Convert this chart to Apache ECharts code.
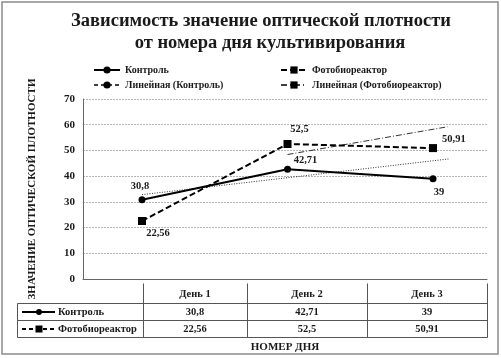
<!DOCTYPE html>
<html><head><meta charset="utf-8">
<script src="https://cdn.jsdelivr.net/npm/echarts@6/dist/echarts.min.js"></script>
<style>html,body{margin:0;padding:0;background:#fff}#c{width:501px;height:358px}</style>
</head><body><div id="c"></div>
<script>
// ---- data ----
const titleLines = ['Зависимость значение оптической плотности', 'от номера дня культивирования'];
const days = ['День 1', 'День 2', 'День 3'];
const dayNumbers = [1, 2, 3];
const seriesNames = ['Контроль', 'Фотобиореактор', 'Линейная (Контроль)', 'Линейная (Фотобиореактор)'];
const control = [30.8, 42.71, 39];
const photo = [22.56, 52.5, 50.91];
const trendControlX = [1, 3.11];
const trendControlY = [32.8, 46.7];
const trendPhotoX = [2, 3.1];
const trendPhotoY = [48.4, 59.2];
const yMin = 0, yMax = 70, yStep = 10;
const yTitle = 'ЗНАЧЕНИЕ ОПТИЧЕСКОЙ ПЛОТНОСТИ';
const xTitle = 'НОМЕР ДНЯ';

// ---- presentation ----
const FONT = '"Liberation Serif", "DejaVu Serif", serif';
const INK = '#1a1a1a';
const fmt = v => String(v).replace('.', ',');
const pair = (xs, ys) => xs.map((x, i) => [x, ys[i]]);

const controlLabelPos = [
  {position: 'top', offset: [-2, 0]},
  {position: 'top', offset: [18, 5]},
  {position: 'bottom', offset: [6, 0]}
];
const photoLabelPos = [
  {position: 'bottom', offset: [16, -2]},
  {position: 'top', offset: [12, 0]},
  {position: 'right', offset: [0, -9]}
];
const labelBase = {show: true, fontFamily: FONT, fontWeight: 'bold', fontSize: 10.5, color: INK,
  formatter: p => fmt(p.value[1])};

const chart = echarts.init(document.getElementById('c'), null, {renderer: 'canvas'});

// table geometry
const tL = 17, tTop = 283, hB = 303, r1B = 320, r2B = 337;
const cols = [143, 247, 367, 487];
const g = [];
const line = (x1, y1, x2, y2, extra) => g.push(Object.assign({type: 'line', silent: true,
  shape: {x1, y1, x2, y2}, style: {stroke: '#555', lineWidth: 1}}, extra || {}));
const txt = (x, y, text, align, size) => g.push({type: 'text', silent: true, x, y,
  style: {text, fontFamily: FONT, fontWeight: 'bold', fontSize: size || 10.5, fill: INK,
    textAlign: align || 'center', textVerticalAlign: 'middle'}});

// outer frame
g.push({type: 'rect', silent: true, shape: {x: 2, y: 2, width: 496, height: 352},
  style: {fill: 'none', stroke: '#8a8a8a', lineWidth: 1.5}});
// title
txt(261, 21, titleLines[0], 'center', 18.5);
txt(270, 43, titleLines[1], 'center', 18.5);

[hB, r1B, r2B].forEach(y => line(tL + 0.5, y + 0.5, cols[3] + 0.5, y + 0.5));
line(tL + 0.5, hB + 0.5, tL + 0.5, r2B + 0.5);
cols.forEach(x => line(x + 0.5, tTop + 0.5, x + 0.5, r2B + 0.5));
days.forEach((d, i) => {
  const cx = (cols[i] + cols[i + 1]) / 2;
  txt(cx, (tTop + hB) / 2 + 1, d);
  txt(cx, (hB + r1B) / 2 + 1, fmt(control[i]));
  txt(cx, (r1B + r2B) / 2 + 1, fmt(photo[i]));
});
// row keys
line(22, (hB + r1B) / 2 + 0.5, 55, (hB + r1B) / 2 + 0.5, {style: {stroke: '#000', lineWidth: 2}});
g.push({type: 'circle', silent: true, shape: {cx: 39, cy: (hB + r1B) / 2 + 0.5, r: 3}, style: {fill: '#000'}});
txt(58, (hB + r1B) / 2 + 1, seriesNames[0], 'left');
line(22, (r1B + r2B) / 2 + 0.5, 55, (r1B + r2B) / 2 + 0.5, {style: {stroke: '#000', lineWidth: 2, lineDash: [4, 3]}});
g.push({type: 'rect', silent: true, shape: {x: 35.5, y: (r1B + r2B) / 2 - 3, width: 7, height: 7}, style: {fill: '#000'}});
txt(58, (r1B + r2B) / 2 + 1, seriesNames[1], 'left');

const legendText = {fontFamily: FONT, fontWeight: 'bold', fontSize: 10, color: INK};
chart.setOption({
  animation: false,
  backgroundColor: '#fff',
  grid: {left: 83, right: 14, top: 99, bottom: 75},
  legend: [
    {left: 88, top: 60, orient: 'vertical', itemGap: 5, itemWidth: 26, itemHeight: 9,
      textStyle: legendText, selectedMode: false,
      data: [seriesNames[0], {name: seriesNames[2], lineStyle: {type: [4, 3], width: 1.5, color: '#000'}}]},
    {left: 275, top: 60, orient: 'vertical', itemGap: 5, itemWidth: 26, itemHeight: 9,
      textStyle: legendText, selectedMode: false,
      data: [seriesNames[1], {name: seriesNames[3], lineStyle: {type: [6, 3, 1, 3], width: 1.5, color: '#000'}}]}
  ],
  xAxis: {
    type: 'value', min: 0.5945, max: 3.371,
    axisLine: {show: true, lineStyle: {color: '#666', width: 1}},
    axisTick: {show: false}, axisLabel: {show: false}, splitLine: {show: false},
    name: xTitle, nameLocation: 'middle', nameGap: 63,
    nameTextStyle: {fontFamily: FONT, fontWeight: 'bold', fontSize: 11, color: INK}
  },
  yAxis: {
    type: 'value', min: yMin, max: yMax, interval: yStep,
    axisLine: {show: true, lineStyle: {color: '#666', width: 1}},
    axisTick: {show: false},
    axisLabel: {fontFamily: FONT, fontWeight: 'bold', fontSize: 11, color: INK, margin: 8},
    splitLine: {show: true, lineStyle: {color: '#b5b5b5', type: [2, 1], width: 1}},
    name: yTitle, nameLocation: 'middle', nameGap: 45, nameRotate: 90,
    nameTextStyle: {fontFamily: FONT, fontWeight: 'bold', fontSize: 11, color: INK}
  },
  series: [
    {name: seriesNames[0], type: 'line', symbol: 'circle', symbolSize: 7, z: 5,
      itemStyle: {color: '#000'}, lineStyle: {color: '#000', width: 2},
      label: labelBase,
      data: dayNumbers.map((d, i) => ({value: [d, control[i]], label: controlLabelPos[i]}))},
    {name: seriesNames[1], type: 'line', symbol: 'rect', symbolSize: 8, z: 5,
      itemStyle: {color: '#000'}, lineStyle: {color: '#000', width: 2, type: [6, 3]},
      label: labelBase,
      data: dayNumbers.map((d, i) => ({value: [d, photo[i]], label: photoLabelPos[i]}))},
    {name: seriesNames[2], type: 'line', symbol: 'circle', showSymbol: false, symbolSize: 7, z: 3,
      itemStyle: {color: '#000'}, lineStyle: {color: '#333', width: 1, type: [1, 1.5]},
      data: pair(trendControlX, trendControlY)},
    {name: seriesNames[3], type: 'line', symbol: 'rect', showSymbol: false, symbolSize: 8, z: 3,
      itemStyle: {color: '#000'}, lineStyle: {color: '#333', width: 1, type: [6, 2, 1, 2]},
      data: pair(trendPhotoX, trendPhotoY)}
  ],
  graphic: {elements: g}
});
</script></body></html>
